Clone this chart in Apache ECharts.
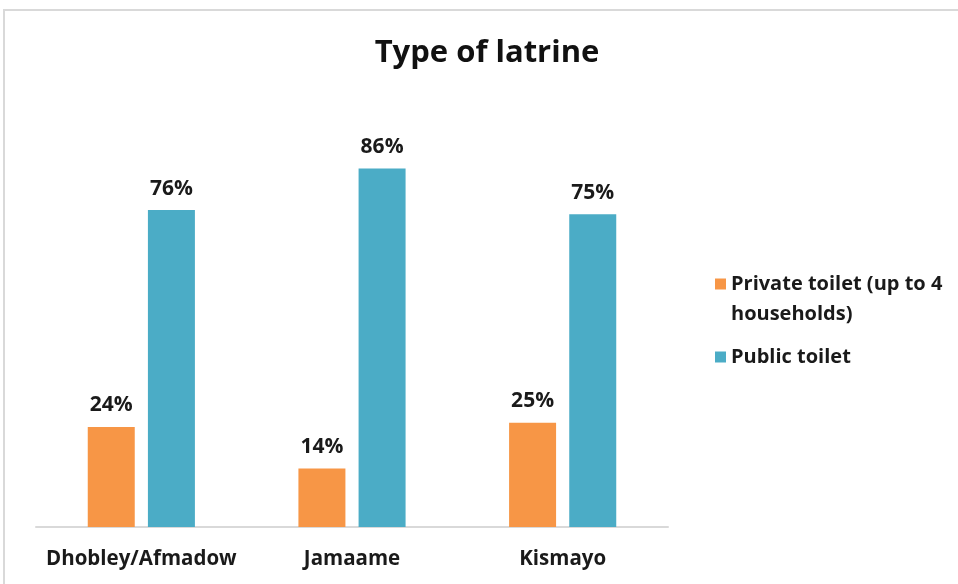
<!DOCTYPE html>
<html>
<head>
<meta charset="utf-8">
<script src="https://cdn.jsdelivr.net/npm/echarts@6/dist/echarts.min.js"></script>
<style>
  html, body { margin: 0; padding: 0; background: #ffffff; }
  #chart { width: 958px; height: 584px; }
</style>
</head>
<body>
<div id="chart"></div>
<script>
// Share of households by latrine type, per district (%)
const districts = ['Dhobley/Afmadow', 'Jamaame', 'Kismayo'];
const privateToilet = [24, 14, 25];
const publicToilet = [76, 86, 75];
const seriesNames = ['Private toilet (up to 4 households)', 'Public toilet'];

const FONT = '"Open Sans", "Noto Sans", sans-serif';
const chart = echarts.init(document.getElementById('chart'), null, { renderer: 'canvas' });

const labelStyle = {
  show: true,
  position: 'top',
  distance: 11,
  formatter: p => p.value + '%',
  color: '#1a1a1a',
  fontFamily: FONT,
  fontWeight: 'bold',
  fontSize: 21
};

chart.setOption({
  backgroundColor: '#ffffff',
  animation: false,
  title: {
    text: 'Type of latrine',
    left: 482,
    textAlign: 'center',
    top: 33,
    textStyle: { fontFamily: FONT, fontWeight: 'bold', fontSize: 31, color: '#111' }
  },
  graphic: [{
    type: 'rect',
    shape: { x: 4, y: 10, width: 1000, height: 700 },
    style: { fill: 'none', stroke: '#d9d9d9', lineWidth: 2 },
    silent: true,
    z: -1
  }],
  legend: {
    orient: 'vertical',
    left: 710,
    top: 234,
    itemWidth: 11,
    itemHeight: 11,
    itemGap: 13,
    icon: 'rect',
    data: seriesNames,
    // leading blank line keeps the marker level with the first line of the wrapped name
    formatter: name => name === seriesNames[0] ? ' \nPrivate toilet (up to 4\nhouseholds)' : name,
    textStyle: { fontFamily: FONT, fontWeight: 'bold', fontSize: 20, color: '#1a1a1a', lineHeight: 30 }
  },
  grid: { left: 36, right: 290, top: 110, bottom: 57, containLabel: false },
  xAxis: {
    type: 'category',
    data: districts,
    axisLine: { lineStyle: { color: '#d9d9d9', width: 2 } },
    axisTick: { show: false },
    axisLabel: { interval: 0, fontFamily: FONT, fontWeight: 'bold', fontSize: 20.5, color: '#1a1a1a', margin: 22 }
  },
  yAxis: {
    type: 'value',
    min: 0,
    max: 100,
    show: false
  },
  series: [
    {
      name: seriesNames[0],
      type: 'bar',
      data: privateToilet,
      barWidth: 47,
      barGap: '28%',
      itemStyle: { color: '#F79646' },
      label: labelStyle
    },
    {
      name: seriesNames[1],
      type: 'bar',
      data: publicToilet,
      barWidth: 47,
      barGap: '28%',
      itemStyle: { color: '#4BACC6' },
      label: labelStyle
    }
  ]
});
</script>
</body>
</html>
